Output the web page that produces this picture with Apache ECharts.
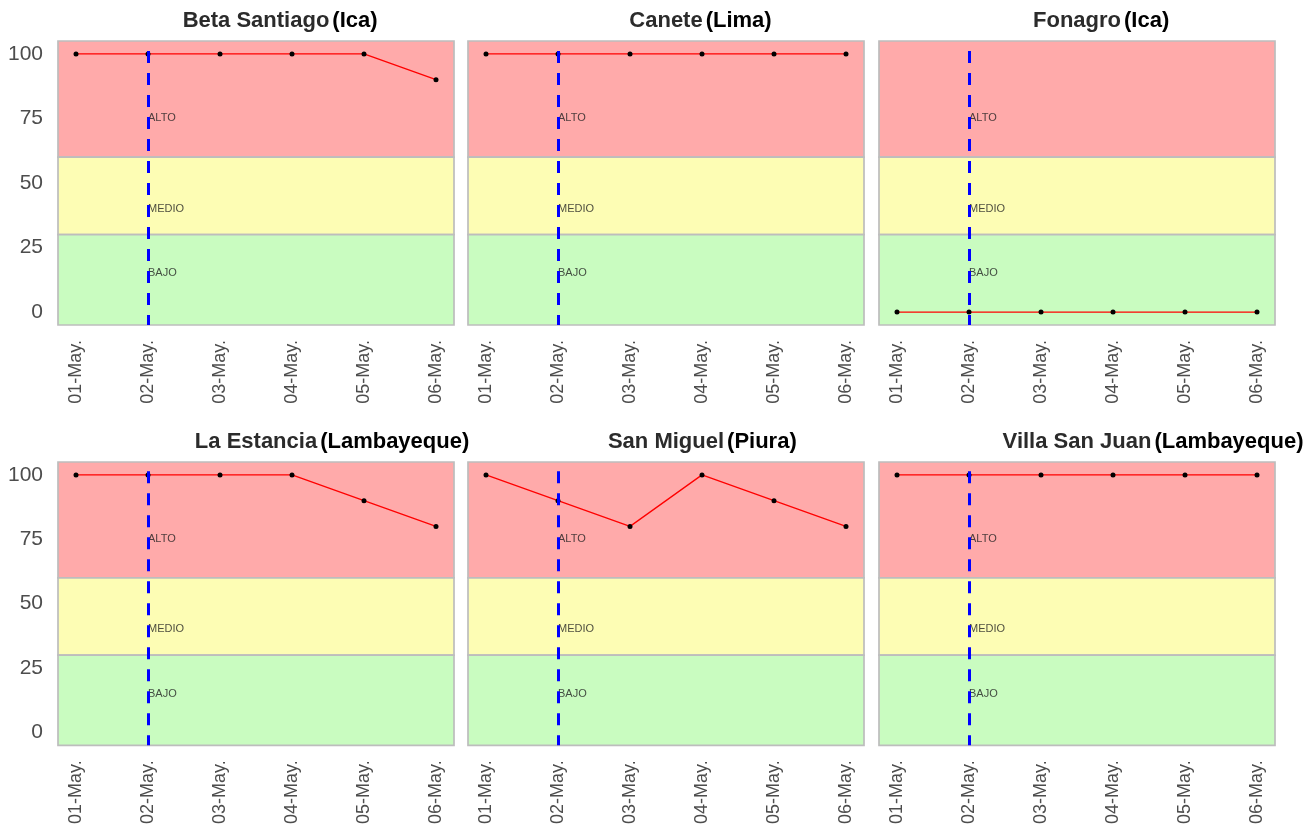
<!DOCTYPE html>
<html>
<head>
<meta charset="utf-8">
<script src="https://cdn.jsdelivr.net/npm/echarts@6/dist/echarts.min.js"></script>
<style>
  html, body { margin: 0; padding: 0; background: #fff; }
  #chart { width: 1316px; height: 827px; }
</style>
</head>
<body>
<div id="chart"></div>
<script>
const dates = ['01-May.', '02-May.', '03-May.', '04-May.', '05-May.', '06-May.']
const sites = ['Beta Santiago', 'Canete', 'Fonagro', 'La Estancia', 'San Miguel', 'Villa San Juan']
const regions = ['(Ica)', '(Lima)', '(Ica)', '(Lambayeque)', '(Piura)', '(Lambayeque)']

const betaSantiago = [100, 100, 100, 100, 100, 90]
const canete = [100, 100, 100, 100, 100, 100]
const fonagro = [0, 0, 0, 0, 0, 0]
const laEstancia = [100, 100, 100, 100, 90, 80]
const sanMiguel = [100, 90, 80, 100, 90, 80]
const villaSanJuan = [100, 100, 100, 100, 100, 100]
const siteValues = [betaSantiago, canete, fonagro, laEstancia, sanMiguel, villaSanJuan]

const yTicks = [0, 25, 50, 75, 100]
const levelNames = ['ALTO', 'MEDIO', 'BAJO']
const levelTextY = [75, 40, 15]
const levelBands = [[60, 105], [30, 60], [-5, 30]]
const markedDay = 1 // 02-May.

const bandColors = ['#ffaaaa', '#fdfdb4', '#c9fcc0']
const colLeft = [58, 468, 879]
const rowTop = [41, 462]
const plotW = 396
const plotH = 284
const titleFont = '"Liberation Sans", Arial, sans-serif'

const ctx = document.createElement('canvas').getContext('2d')
ctx.font = 'bold 22px ' + titleFont

const grid = []
const xAxis = []
const yAxis = []
const series = []
const graphic = []

sites.forEach((site, i) => {
  const col = i % 3
  const row = Math.floor(i / 3)
  grid.push({ left: colLeft[col], top: rowTop[row], width: plotW, height: plotH })

  xAxis.push({
    type: 'value', gridIndex: i, min: -0.25, max: 5.25,
    axisLine: { show: false }, axisTick: { show: false }, splitLine: { show: false },
    axisLabel: {
      customValues: dates.map((d, k) => k),
      formatter: v => dates[Math.round(v)],
      rotate: 90, margin: 15, fontSize: 18, color: '#4d4d4d', fontFamily: titleFont
    }
  })
  yAxis.push({
    type: 'value', gridIndex: i, min: -5, max: 105,
    axisLine: { show: false }, axisTick: { show: false }, splitLine: { show: false },
    axisLabel: {
      show: col === 0, customValues: yTicks,
      margin: 15, fontSize: 21, color: '#4d4d4d', fontFamily: titleFont
    }
  })

  series.push({
    type: 'line', xAxisIndex: i, yAxisIndex: i, clip: false, silent: true,
    data: siteValues[i].map((v, k) => [k, v]),
    lineStyle: { color: '#ff0000', width: 1.3 },
    symbol: 'circle', symbolSize: 5,
    itemStyle: { color: '#000' },
    z: 3,
    markArea: {
      silent: true,
      data: levelBands.map((b, k) => [
        { yAxis: b[0], itemStyle: { color: bandColors[k], borderColor: '#bdbdbd', borderWidth: 1.7 } },
        { yAxis: b[1] }
      ])
    },
    markLine: {
      silent: true, symbol: 'none', label: { show: false },
      lineStyle: { color: '#0000ff', width: 3, type: [12, 10], dashOffset: 2 },
      data: [{ xAxis: markedDay }]
    }
  })

  series.push({
    type: 'scatter', xAxisIndex: i, yAxisIndex: i, silent: true, symbolSize: 0,
    data: levelNames.map((n, k) => ({ name: n, value: [markedDay, levelTextY[k]] })),
    label: {
      show: true, position: 'right', distance: 0, formatter: p => p.name,
      fontSize: 11, color: '#222', fontFamily: titleFont
    },
    z: 4
  })

  const cx = colLeft[col] + plotW / 2
  const ty = rowTop[row] - 20
  const nameW = ctx.measureText(site).width
  graphic.push({
    type: 'text', left: cx - nameW / 2, top: ty - 11,
    style: { text: site, font: 'bold 22px ' + titleFont, fill: '#2b2b2b' }
  })
  graphic.push({
    type: 'text', left: cx + nameW / 2 + 3, top: ty - 11,
    style: { text: regions[i], font: 'bold 22px ' + titleFont, fill: '#000' }
  })
})

const chart = echarts.init(document.getElementById('chart'))
chart.setOption({
  animation: false,
  backgroundColor: '#fff',
  grid, xAxis, yAxis, series, graphic
})
</script>
</body>
</html>
